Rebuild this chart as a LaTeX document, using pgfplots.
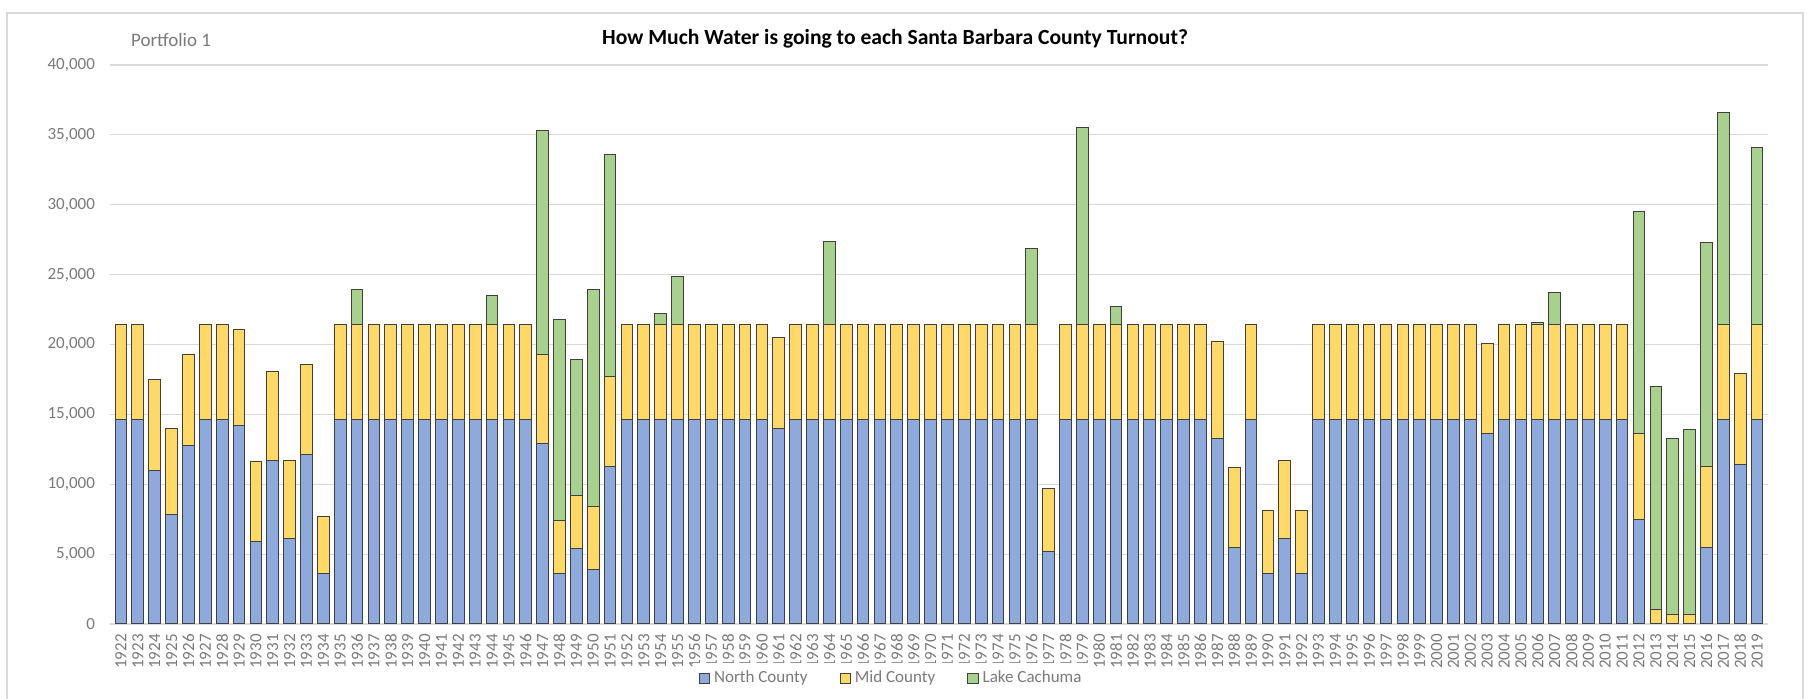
\documentclass[border=0pt]{standalone}
\usepackage{pgfplots}
\usepackage{pgfplotstable}
\usepackage{fontspec}
\setmainfont{Carlito}
\pgfplotsset{compat=1.18}

\definecolor{northc}{HTML}{8EA9DB}
\definecolor{midc}{HTML}{FFD966}
\definecolor{lakec}{HTML}{A9D18E}
\definecolor{txtgray}{HTML}{7A7A7A}
\definecolor{framegray}{HTML}{D9D9D9}

% acre-feet per turnout
\pgfplotstableread{
year N M L
1922 14600 6800 0
1923 14600 6800 0
1924 11000 6500 0
1925 7800 6200 0
1926 12800 6500 0
1927 14600 6800 0
1928 14600 6800 0
1929 14200 6900 0
1930 5900 5700 0
1931 11700 6400 0
1932 6100 5600 0
1933 12100 6500 0
1934 3600 4100 0
1935 14600 6800 0
1936 14600 6800 2500
1937 14600 6800 0
1938 14600 6800 0
1939 14600 6800 0
1940 14600 6800 0
1941 14600 6800 0
1942 14600 6800 0
1943 14600 6800 0
1944 14600 6800 2100
1945 14600 6800 0
1946 14600 6800 0
1947 12900 6400 16000
1948 3600 3800 14400
1949 5400 3800 9700
1950 3900 4500 15500
1951 11300 6400 15900
1952 14600 6800 0
1953 14600 6800 0
1954 14600 6800 800
1955 14600 6800 3500
1956 14600 6800 0
1957 14600 6800 0
1958 14600 6800 0
1959 14600 6800 0
1960 14600 6800 0
1961 14000 6500 0
1962 14600 6800 0
1963 14600 6800 0
1964 14600 6800 6000
1965 14600 6800 0
1966 14600 6800 0
1967 14600 6800 0
1968 14600 6800 0
1969 14600 6800 0
1970 14600 6800 0
1971 14600 6800 0
1972 14600 6800 0
1973 14600 6800 0
1974 14600 6800 0
1975 14600 6800 0
1976 14600 6800 5500
1977 5200 4500 0
1978 14600 6800 0
1979 14600 6800 14100
1980 14600 6800 0
1981 14600 6800 1300
1982 14600 6800 0
1983 14600 6800 0
1984 14600 6800 0
1985 14600 6800 0
1986 14600 6800 0
1987 13300 6900 0
1988 5500 5700 0
1989 14600 6800 0
1990 3600 4500 0
1991 6100 5600 0
1992 3600 4500 0
1993 14600 6800 0
1994 14600 6800 0
1995 14600 6800 0
1996 14600 6800 0
1997 14600 6800 0
1998 14600 6800 0
1999 14600 6800 0
2000 14600 6800 0
2001 14600 6800 0
2002 14600 6800 0
2003 13600 6500 0
2004 14600 6800 0
2005 14600 6800 0
2006 14600 6800 200
2007 14600 6800 2300
2008 14600 6800 0
2009 14600 6800 0
2010 14600 6800 0
2011 14600 6800 0
2012 7500 6100 15900
2013 0 1050 15950
2014 0 650 12650
2015 0 650 13250
2016 5500 5800 16000
2017 14600 6800 15200
2018 11400 6500 0
2019 14600 6800 12700
}\turnouts

\begin{document}
\begin{tikzpicture}
  \useasboundingbox (0,0) rectangle (905.5pt,349.5pt);
  \draw[framegray, line width=1pt] (3.5pt,0) -- (3.5pt,343pt) -- (901.5pt,343pt) -- (901.5pt,0);
  \begin{axis}[
      at={(55pt,37.5pt)}, anchor=south west,
      scale only axis,
      width=829pt, height=279.5pt,
      ybar stacked,
      bar width=5.85pt,
      xmin=1921.35, xmax=2019.65,
      ymin=0, ymax=40000,
      ytick={0,5000,...,40000},
      scaled y ticks=false,
      xtick=data,
      axis x line*=bottom,
      axis y line*=left,
      x axis line style={draw=framegray, line width=0.8pt},
      y axis line style={draw=none},
      major tick length=0pt,
      ymajorgrids,
      grid style={framegray, line width=0.6pt},
      tick label style={font=\fontsize{8.5}{10}\selectfont, text=txtgray},
      /pgf/number format/assume math mode=true,
      yticklabel style={/pgf/number format/1000 sep={,}},
      xticklabel style={/pgf/number format/1000 sep={}, rotate=90, anchor=east, inner sep=0pt},
      xticklabel shift=5pt,
      yticklabel shift=4pt,
      every axis plot/.append style={draw=black!75, line width=0.5pt},
      legend style={at={(rel axis cs:0.4717,-0.097)}, anchor=center, draw=none,
        legend columns=3, font=\fontsize{8.5}{10}\selectfont, text=txtgray,
        /tikz/every even column/.append style={column sep=14pt}},
      legend image code/.code={\draw[#1, line width=0.5pt] (0pt,-2.6pt) rectangle (5.2pt,2.6pt);},
    ]
    \addplot[fill=northc] table[x=year, y=N] {\turnouts};
    \addplot[fill=midc] table[x=year, y=M] {\turnouts};
    \addplot[fill=lakec] table[x=year, y=L] {\turnouts};
    \legend{North County, Mid County, Lake Cachuma}
  \end{axis}
  \node[anchor=west, text=txtgray, font=\fontsize{9.5}{11}\selectfont] at (62pt,329.5pt) {Portfolio 1};
  \node[font=\bfseries\fontsize{10.8}{13}\selectfont] at (447.5pt,330pt) {How Much Water is going to each Santa Barbara County Turnout?};
\end{tikzpicture}
\end{document}
